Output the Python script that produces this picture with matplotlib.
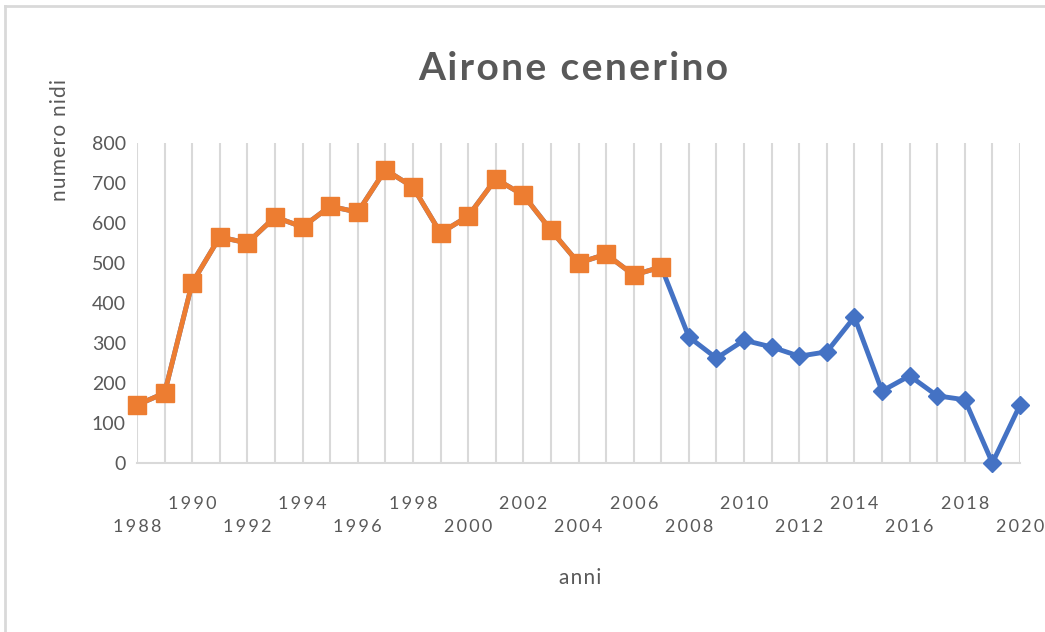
import numpy as np
import matplotlib
matplotlib.use("Agg")
import matplotlib.pyplot as plt
from matplotlib.lines import Line2D

plt.rcParams['font.family'] = ['Lato', 'DejaVu Sans']

years = list(range(1988, 2021))
# total nests, whole period (blue)
nests_all = [145, 175, 450, 565, 550, 615, 590, 642, 627, 733, 690, 575,
             617, 710, 670, 582, 500, 522, 470, 490, 315, 262, 307, 290,
             267, 278, 365, 180, 218, 168, 158, 0, 145]
# older survey series, 1988-2007 (orange)
years_old = list(range(1988, 2008))
nests_old = nests_all[:20]

BLUE = '#4472C4'
ORANGE = '#ED7D31'
GREY = '#D9D9D9'
TXT = '#595959'

fig = plt.figure(figsize=(10.45, 6.32), dpi=100)
ax = fig.add_axes([137/1045, 1-463/632, (1020-137)/1045, 320/632])

ax.plot(years, nests_all, color=BLUE, lw=3.5, marker='D', ms=9.5,
        mec=BLUE, mfc=BLUE, zorder=3, clip_on=False)
ax.plot(years_old, nests_old, color=ORANGE, lw=3.5, marker='s', ms=13,
        mec=ORANGE, mfc=ORANGE, zorder=4, clip_on=False)

ax.set_xlim(1988, 2020)
ax.set_ylim(0, 800)
ax.set_yticks(range(0, 801, 100))
ax.set_xticks(years)

def spaced(s, sep='\u2009'):
    return sep.join(s)

labels = []
for y in years:
    if (y - 1988) % 4 == 0:
        labels.append('\n' + spaced(str(y)))
    elif (y - 1988) % 2 == 0:
        labels.append(spaced(str(y)))
    else:
        labels.append('')
ax.set_xticklabels(labels, fontsize=13, color=TXT, linespacing=1.5)
ax.tick_params(axis='x', length=0, pad=24)
ax.tick_params(axis='y', length=0, pad=8, labelsize=14, labelcolor=TXT)

ax.grid(axis='x', color=GREY, lw=1.5)
ax.set_axisbelow(True)
for s in ['top', 'right', 'left']:
    ax.spines[s].set_visible(False)
ax.spines['bottom'].set_color(GREY)
ax.spines['bottom'].set_linewidth(1.5)

fig.text(573/1045, 1-68/632, spaced('Airone cenerino', '\u200a'),
         ha='center', va='center', fontsize=28, fontweight='bold', color=TXT)
fig.text(60/1045, 1-140/632, spaced('numero nidi', '\u200a'), rotation=90,
         ha='center', va='center', fontsize=15, color=TXT)
fig.text(580/1045, 1-578/632, spaced('anni', '\u200a'), ha='center',
         va='center', fontsize=15, color=TXT)

# chart frame (cropped on the right and bottom)
fig.add_artist(Line2D([5/1045, 5/1045], [0, 1-6/632], color=GREY, lw=2,
                      transform=fig.transFigure))
fig.add_artist(Line2D([5/1045, 1], [1-6/632, 1-6/632], color=GREY, lw=2,
                      transform=fig.transFigure))

fig.savefig('out.png', dpi=100)
